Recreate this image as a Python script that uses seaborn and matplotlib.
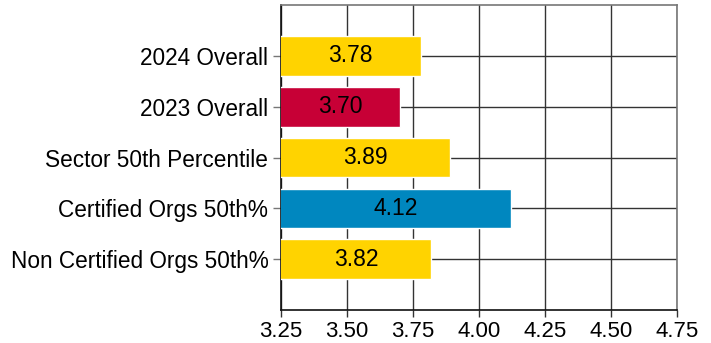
import matplotlib
matplotlib.use("Agg")
import matplotlib.pyplot as plt
import seaborn as sns
import pandas as pd

categories = ["2024 Overall", "2023 Overall", "Sector 50th Percentile",
              "Certified Orgs 50th%", "Non Certified Orgs 50th%"]
scores = [3.78, 3.70, 3.89, 4.12, 3.82]
bar_colors = ["#FFD300", "#C70036", "#FFD300", "#0087BF", "#FFD300"]
x_ticks = [3.25, 3.50, 3.75, 4.00, 4.25, 4.50, 4.75]

sns.set_theme(style="white")
plt.rcParams["font.family"] = ["Liberation Sans", "DejaVu Sans"]

df = pd.DataFrame({"category": categories, "score": scores})

fig = plt.figure(figsize=(7.11, 3.43), dpi=100)
ax = fig.add_axes([0.395, 0.096, 0.557, 0.889])

sns.barplot(data=df, x="score", y="category", hue="category",
            palette=dict(zip(categories, bar_colors)), legend=False,
            orient="h", width=0.78, saturation=1, ax=ax, zorder=3)

ax.set_xlim(3.25, 4.75)
ax.set_ylim(5, -1)
ax.set_xticks(x_ticks)
ax.set_xticklabels([f"{t:.2f}" for t in x_ticks], fontsize=16)
ax.set_yticks(range(len(categories)))
ax.set_yticklabels(categories, fontsize=16.3)
ax.set_xlabel("")
ax.set_ylabel("")

ax.grid(True, axis="both", color="#333333", linewidth=1.0, zorder=0)
ax.set_axisbelow(True)
for side in ["left", "bottom"]:
    ax.spines[side].set_color("#111111")
    ax.spines[side].set_linewidth(1.2)
for side in ["top", "right"]:
    ax.spines[side].set_color("#777777")
    ax.spines[side].set_linewidth(1.2)

ax.tick_params(axis="x", which="both", bottom=True, length=5, width=1,
               color="#333333", pad=3, labelcolor="black")
ax.tick_params(axis="y", which="both", left=True, length=6, width=1,
               color="#777777", pad=3, labelcolor="black")

for i, v in enumerate(scores):
    ax.text((3.25 + v) / 2, i, f"{v:.2f}", ha="center", va="center",
            fontsize=16.5, color="black", zorder=5)

fig.savefig("out.png", dpi=100)
